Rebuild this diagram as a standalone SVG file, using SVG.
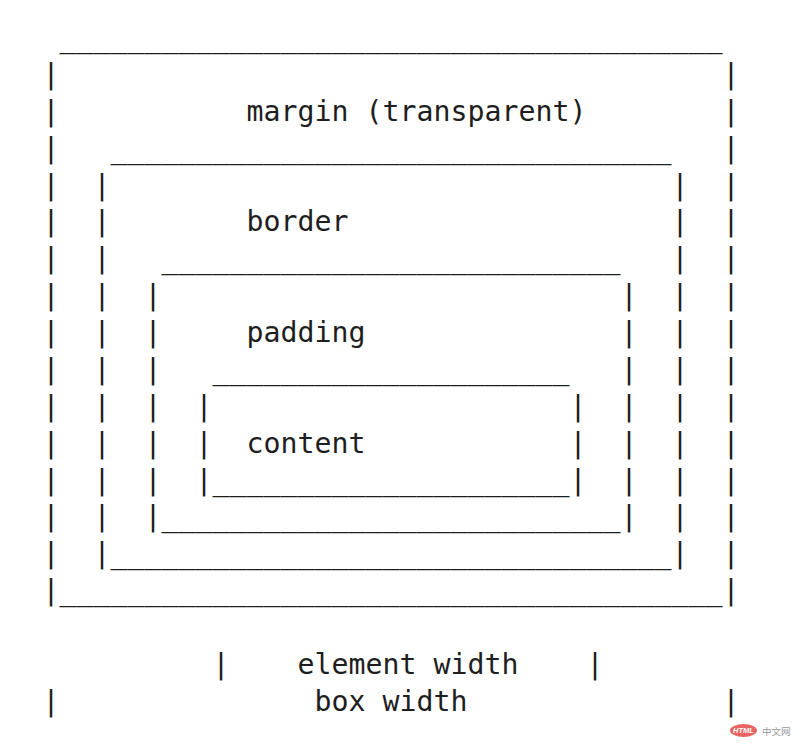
<svg xmlns="http://www.w3.org/2000/svg" width="800" height="754" viewBox="0 0 800 754">
<style>
.t{font-family:"DejaVu Sans Mono","Liberation Mono",monospace;font-size:28.24px;fill:#1e1e1e;white-space:pre}
</style>
<rect width="800" height="754" fill="#fff"/>
<g id="margin" class="t">
<text class="t" x="59.5" y="47">_______________________________________</text>
<text class="t"><tspan x="42.5" y="83.8">|</tspan><tspan x="42.5" y="120.7">|</tspan><tspan x="42.5" y="157.6">|</tspan><tspan x="42.5" y="194.5">|</tspan><tspan x="42.5" y="231.3">|</tspan><tspan x="42.5" y="268.2">|</tspan><tspan x="42.5" y="305.1">|</tspan><tspan x="42.5" y="342">|</tspan><tspan x="42.5" y="378.8">|</tspan><tspan x="42.5" y="415.7">|</tspan><tspan x="42.5" y="452.6">|</tspan><tspan x="42.5" y="489.5">|</tspan><tspan x="42.5" y="526.3">|</tspan><tspan x="42.5" y="563.2">|</tspan></text>
<text class="t"><tspan x="722.5" y="83.8">|</tspan><tspan x="722.5" y="120.7">|</tspan><tspan x="722.5" y="157.6">|</tspan><tspan x="722.5" y="194.5">|</tspan><tspan x="722.5" y="231.3">|</tspan><tspan x="722.5" y="268.2">|</tspan><tspan x="722.5" y="305.1">|</tspan><tspan x="722.5" y="342">|</tspan><tspan x="722.5" y="378.8">|</tspan><tspan x="722.5" y="415.7">|</tspan><tspan x="722.5" y="452.6">|</tspan><tspan x="722.5" y="489.5">|</tspan><tspan x="722.5" y="526.3">|</tspan><tspan x="722.5" y="563.2">|</tspan></text>
<text class="t" x="42.5" y="600.1">|_______________________________________|</text>
<text class="t" x="246.5" y="120.7">margin (transparent)</text>
</g>
<g id="border" class="t">
<text class="t" x="110.5" y="157.6">_________________________________</text>
<text class="t"><tspan x="93.5" y="194.5">|</tspan><tspan x="93.5" y="231.3">|</tspan><tspan x="93.5" y="268.2">|</tspan><tspan x="93.5" y="305.1">|</tspan><tspan x="93.5" y="342">|</tspan><tspan x="93.5" y="378.8">|</tspan><tspan x="93.5" y="415.7">|</tspan><tspan x="93.5" y="452.6">|</tspan><tspan x="93.5" y="489.5">|</tspan><tspan x="93.5" y="526.3">|</tspan></text>
<text class="t"><tspan x="671.5" y="194.5">|</tspan><tspan x="671.5" y="231.3">|</tspan><tspan x="671.5" y="268.2">|</tspan><tspan x="671.5" y="305.1">|</tspan><tspan x="671.5" y="342">|</tspan><tspan x="671.5" y="378.8">|</tspan><tspan x="671.5" y="415.7">|</tspan><tspan x="671.5" y="452.6">|</tspan><tspan x="671.5" y="489.5">|</tspan><tspan x="671.5" y="526.3">|</tspan></text>
<text class="t" x="93.5" y="563.2">|_________________________________|</text>
<text class="t" x="246.5" y="231.3">border</text>
</g>
<g id="padding" class="t">
<text class="t" x="161.5" y="268.2">___________________________</text>
<text class="t"><tspan x="144.5" y="305.1">|</tspan><tspan x="144.5" y="342">|</tspan><tspan x="144.5" y="378.8">|</tspan><tspan x="144.5" y="415.7">|</tspan><tspan x="144.5" y="452.6">|</tspan><tspan x="144.5" y="489.5">|</tspan></text>
<text class="t"><tspan x="620.5" y="305.1">|</tspan><tspan x="620.5" y="342">|</tspan><tspan x="620.5" y="378.8">|</tspan><tspan x="620.5" y="415.7">|</tspan><tspan x="620.5" y="452.6">|</tspan><tspan x="620.5" y="489.5">|</tspan></text>
<text class="t" x="144.5" y="526.3">|___________________________|</text>
<text class="t" x="246.5" y="342">padding</text>
</g>
<g id="content" class="t">
<text class="t" x="212.5" y="378.8">_____________________</text>
<text class="t"><tspan x="195.5" y="415.7">|</tspan><tspan x="195.5" y="452.6">|</tspan></text>
<text class="t"><tspan x="569.5" y="415.7">|</tspan><tspan x="569.5" y="452.6">|</tspan></text>
<text class="t" x="195.5" y="489.5">|_____________________|</text>
<text class="t" x="246.5" y="452.6">content</text>
</g>
<g id="element-width" class="t">
<text class="t" x="212.5" y="673.8">|</text>
<text class="t" x="297.5" y="673.8">element width</text>
<text class="t" x="586.5" y="673.8">|</text>
</g>
<g id="box-width" class="t">
<text class="t" x="42.5" y="710.7">|</text>
<text class="t" x="314.5" y="710.7">box width</text>
<text class="t" x="722.5" y="710.7">|</text>
</g>
<g id="watermark">
<ellipse cx="743.5" cy="730.5" rx="13.5" ry="6.5" fill="#ea6464"/>
<text x="743.5" y="733.3" text-anchor="middle" font-family="Liberation Sans, Arial, sans-serif" font-size="7.5" font-weight="bold" font-style="italic" fill="#fff">HTML</text>
<text x="762" y="734.5" font-family="Noto Sans CJK SC, sans-serif" font-size="9.5" fill="#999">中文网</text>
</g>
</svg>
